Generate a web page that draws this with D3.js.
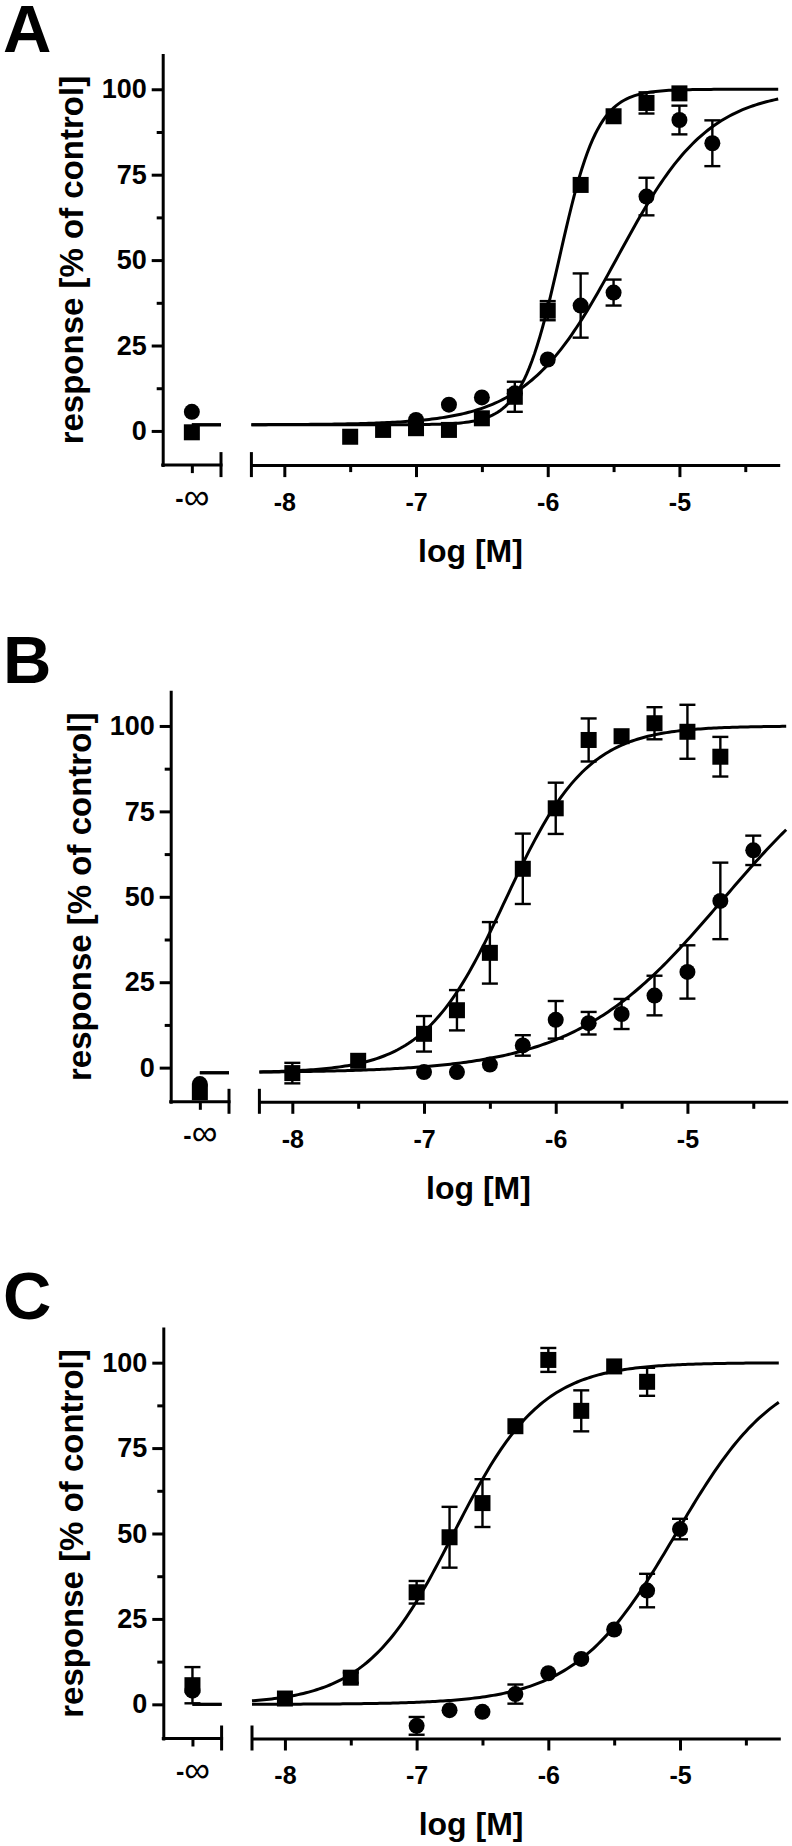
<!DOCTYPE html>
<html>
<head>
<meta charset="utf-8">
<script src="https://cdn.jsdelivr.net/npm/d3@7"></script>
<style>
  html, body { margin: 0; padding: 0; background: #fff; }
  svg { display: block; }
  text { font-family: "Liberation Sans", Arial, Helvetica, sans-serif; }
</style>
</head>
<body>
<script>
// ---------------- DATA ----------------
const panelLabels = ["A", "B", "C"];
const xTickValues = [-8, -7, -6, -5];
const xTickLabels = ["-8", "-7", "-6", "-5"];
const xMinorTicks = [-7.5, -6.5, -5.5, -4.5];
const yTickValues = [0, 25, 50, 75, 100];
const yMinorTicks = [12.5, 37.5, 62.5, 87.5];
const infCategory = ["-∞"];
const xDomain = [-8.25, -4.25];
const yDomain = [-10, 110];
const xTitle = "log [M]";
const yTitle = "response [% of control]";

// Panel A
const concA_sq = [-7.5, -7.25, -7, -6.75, -6.5, -6.25, -6, -5.75, -5.5, -5.25, -5];
const respA_sq = [-1.7, 0.3, 0.8, 0.3, 3.7, 10.0, 35.2, 72.0, 92.1, 96.0, 98.8];
const errA_sq  = [0, 0, 0, 0, 0, 4.4, 2.8, 0, 0, 3.1, 0];
const concA_ci = [-7, -6.75, -6.5, -6.25, -6, -5.75, -5.5, -5.25, -5, -4.75];
const respA_ci = [3.2, 7.7, 9.8, 11.0, 20.9, 36.7, 40.5, 68.6, 91.0, 84.2];
const errA_ci  = [0, 0, 0, 0, 0, 9.4, 3.8, 5.5, 4.2, 6.7];
const infA_sq = [-0.4], infErrA_sq = [0];
const infA_ci = [5.6], infErrA_ci = [0];
const fitA_sq = [1.8, 100, -5.91, 3.0];   // bottom, top, logEC50, hill
const fitA_ci = [1.8, 100, -5.47, 1.25];

// Panel B
const concB_sq = [-8, -7.5, -7, -6.75, -6.5, -6.25, -6, -5.75, -5.5, -5.25, -5, -4.75];
const respB_sq = [-1.6, 2.0, 9.9, 16.8, 33.6, 58.2, 75.9, 95.9, 97.0, 100.8, 98.3, 91.0];
const errB_sq  = [3.0, 0, 5.2, 5.9, 9.0, 10.3, 7.5, 6.3, 0, 4.7, 7.9, 5.8];
const concB_ci = [-7, -6.75, -6.5, -6.25, -6, -5.75, -5.5, -5.25, -5, -4.75, -4.5];
const respB_ci = [-1.3, -1.3, 0.9, 6.5, 14.0, 13.0, 15.7, 21.1, 28.0, 48.8, 63.6];
const errB_ci  = [0, 0, 0, 3.0, 5.5, 3.3, 4.4, 5.8, 7.8, 11.2, 4.3];
const infB_sq = [-7.2], infErrB_sq = [0];
const infB_ci = [-4.8], infErrB_ci = [0];
const fitB_sq = [-1.5, 100, -6.38, 1.4];
const fitB_ci = [-1.5, 100, -4.73, 0.77];

// Panel C
const concC_sq = [-8, -7.5, -7, -6.75, -6.5, -6.25, -6, -5.75, -5.5, -5.25];
const respC_sq = [1.7, 7.8, 32.8, 48.9, 58.9, 81.4, 100.8, 85.9, 98.9, 94.4];
const errC_sq  = [0, 1.5, 3.3, 8.9, 7.0, 0, 3.5, 6.0, 0, 4.1];
const concC_ci = [-7, -6.75, -6.5, -6.25, -6, -5.75, -5.5, -5.25, -5];
const respC_ci = [-6.3, -1.7, -2.2, 3.0, 9.1, 13.3, 21.9, 33.3, 51.3];
const errC_ci  = [2.6, 0, 0, 2.8, 0, 0, 0, 4.9, 3.0];
const infC_sq = [5.6], infErrC_sq = [5.3];
const infC_ci = [4.0], infErrC_ci = [0];
const fitC_sq = [0.0, 100, -6.72, 1.3];
const fitC_ci = [0.0, 100, -5.03, 1.13];

// ---------------- BUILD ----------------
const panelData = [
  { sq: [concA_sq, respA_sq, errA_sq], ci: [concA_ci, respA_ci, errA_ci],
    inf: { sq: [infA_sq, infErrA_sq], ci: [infA_ci, infErrA_ci] }, fit: { sq: fitA_sq, ci: fitA_ci } },
  { sq: [concB_sq, respB_sq, errB_sq], ci: [concB_ci, respB_ci, errB_ci],
    inf: { sq: [infB_sq, infErrB_sq], ci: [infB_ci, infErrB_ci] }, fit: { sq: fitB_sq, ci: fitB_ci } },
  { sq: [concC_sq, respC_sq, errC_sq], ci: [concC_ci, respC_ci, errC_ci],
    inf: { sq: [infC_sq, infErrC_sq], ci: [infC_ci, infErrC_ci] }, fit: { sq: fitC_sq, ci: fitC_ci } }
];

// layout (positions only)
const layout = [
  { dx: 0,   top: 55.1,   letterY: 52 },
  { dx: 8,   top: 691.8,  letterY: 683 },
  { dx: 0.6, top: 1328.5, letterY: 1319 }
];
const plotH = 410;
const AX = 3;       // axis stroke
const FONT = '"Liberation Sans", Arial, Helvetica, sans-serif';

const svg = d3.select("body").append("svg")
  .attr("width", 792).attr("height", 1846)
  .attr("viewBox", "0 0 792 1846");
svg.append("rect").attr("width", 792).attr("height", 1846).attr("fill", "#fff");

function hill(p, x) {
  const [bottom, top, ec, h] = p;
  return bottom + (top - bottom) / (1 + Math.pow(10, (ec - x) * h));
}

function styleAxis(sel) {
  sel.attr("font-family", FONT);
  sel.selectAll(".domain").attr("stroke", "#000").attr("stroke-width", AX).attr("stroke-linecap", "square");
  sel.selectAll(".tick line").attr("stroke", "#000").attr("stroke-width", AX);
  sel.selectAll(".tick text").attr("fill", "#000").attr("font-weight", "bold");
}

panelData.forEach((pd, i) => {
  const L = layout[i];
  const g = svg.append("g");
  const axisX = 162.7 + L.dx;
  const seg1End = 221 + L.dx;
  const y = d3.scaleLinear().domain(yDomain).range([L.top + plotH, L.top]);
  const x = d3.scaleLinear().domain(xDomain).range([251.4 + L.dx, 778.2 + L.dx]);
  const xInf = d3.scalePoint().domain(infCategory).range([axisX, seg1End]).padding(0.5);
  const axisY = y(yDomain[0]);

  // panel letter
  g.append("text").attr("x", 3).attr("y", L.letterY)
    .attr("font-size", 67).attr("font-weight", "bold").attr("font-family", FONT)
    .text(panelLabels[i]);

  // Y axis
  const yAx = g.append("g").attr("transform", `translate(${axisX},0)`)
    .call(d3.axisLeft(y).tickValues(yTickValues).tickSize(11).tickSizeOuter(0).tickPadding(5).tickFormat(d3.format("d")));
  styleAxis(yAx);
  yAx.selectAll(".tick text").attr("font-size", 27);
  const yMin = g.append("g").attr("transform", `translate(${axisX},0)`)
    .call(d3.axisLeft(y).tickValues(yMinorTicks).tickSize(6).tickFormat(""));
  yMin.select(".domain").remove();
  styleAxis(yMin);

  // X axis segment 1 (-∞)
  const xa1 = g.append("g").attr("transform", `translate(0,${axisY})`)
    .call(d3.axisBottom(xInf).tickSize(8).tickSizeOuter(0).tickPadding(16));
  styleAxis(xa1);
  xa1.selectAll(".tick text").each(function(d) {
    const t = d3.select(this);
    t.text(null).attr("dy", "0.71em").attr("font-size", 25);
    t.append("tspan").attr("font-weight", "bold").text(d.charAt(0));
    t.append("tspan").attr("font-weight", "normal").attr("font-size", 36).attr("dy", "0.05em").text(d.slice(1));
  });
  xa1.select(".domain").attr("d", `M${axisX},0H${seg1End}`);

  // X axis segment 2
  const xa2 = g.append("g").attr("transform", `translate(0,${axisY})`)
    .call(d3.axisBottom(x).tickValues(xTickValues).tickSize(12).tickSizeOuter(0).tickPadding(16)
      .tickFormat((d, k) => xTickLabels[k]));
  styleAxis(xa2);
  xa2.selectAll(".tick text").attr("font-size", 25);
  const xm2 = g.append("g").attr("transform", `translate(0,${axisY})`)
    .call(d3.axisBottom(x).tickValues(xMinorTicks).tickSize(7).tickFormat(""));
  xm2.select(".domain").remove();
  styleAxis(xm2);

  // break marks
  [seg1End, x.range()[0]].forEach(bx => {
    g.append("line").attr("x1", bx).attr("x2", bx)
      .attr("y1", axisY - 13).attr("y2", axisY + 12)
      .attr("stroke", "#000").attr("stroke-width", AX);
  });

  // titles
  g.append("text")
    .attr("x", (axisX + x.range()[1]) / 2).attr("y", axisY + 96.7)
    .attr("text-anchor", "middle").attr("font-size", 32).attr("font-weight", "bold")
    .attr("font-family", FONT).text(xTitle);
  g.append("text")
    .attr("transform", `translate(${axisX - 80},${y(50)}) rotate(-90)`)
    .attr("text-anchor", "middle").attr("font-size", 33).attr("font-weight", "bold")
    .attr("font-family", FONT).text(yTitle);

  // fitted curves
  const line = d3.line().x(d => x(d[0])).y(d => y(d[1]));
  ["sq", "ci"].forEach(key => {
    const p = pd.fit[key];
    const xs = d3.ticks(xDomain[0], xDomain[1], 200);
    if (xs[0] > xDomain[0]) xs.unshift(xDomain[0]);
    if (xs[xs.length - 1] < xDomain[1]) xs.push(xDomain[1]);
    g.append("path").datum(xs.map(v => [v, hill(p, v)]))
      .attr("d", line).attr("fill", "none").attr("stroke", "#000").attr("stroke-width", 3);
    // baseline segment at -∞
    g.append("line").attr("x1", xInf(infCategory[0])).attr("x2", seg1End)
      .attr("y1", y(p[0])).attr("y2", y(p[0]))
      .attr("stroke", "#000").attr("stroke-width", 3);
  });

  // points
  function errBars(xs, vals, errs) {
    xs.forEach((xv, k) => {
      const e = errs[k];
      if (!e) return;
      const y1 = y(vals[k] - e), y2 = y(vals[k] + e);
      g.append("line").attr("x1", xv).attr("x2", xv).attr("y1", y1).attr("y2", y2)
        .attr("stroke", "#000").attr("stroke-width", 2.4);
      [y1, y2].forEach(yy => g.append("line").attr("x1", xv - 8).attr("x2", xv + 8)
        .attr("y1", yy).attr("y2", yy).attr("stroke", "#000").attr("stroke-width", 2.4));
    });
  }
  const infX = xInf(infCategory[0]);
  errBars(pd.sq[0].map(v => x(v)), pd.sq[1], pd.sq[2]);
  errBars(pd.ci[0].map(v => x(v)), pd.ci[1], pd.ci[2]);
  errBars([infX], pd.inf.sq[0], pd.inf.sq[1]);
  errBars([infX], pd.inf.ci[0], pd.inf.ci[1]);

  function circles(xs, vals) {
    xs.forEach((xv, k) => g.append("circle").attr("cx", xv).attr("cy", y(vals[k])).attr("r", 8).attr("fill", "#000"));
  }
  function squares(xs, vals) {
    xs.forEach((xv, k) => g.append("rect").attr("x", xv - 8).attr("y", y(vals[k]) - 8)
      .attr("width", 16).attr("height", 16).attr("fill", "#000"));
  }
  circles(pd.ci[0].map(v => x(v)), pd.ci[1]);
  circles([infX], pd.inf.ci[0]);
  squares(pd.sq[0].map(v => x(v)), pd.sq[1]);
  squares([infX], pd.inf.sq[0]);
});
</script>
</body>
</html>
